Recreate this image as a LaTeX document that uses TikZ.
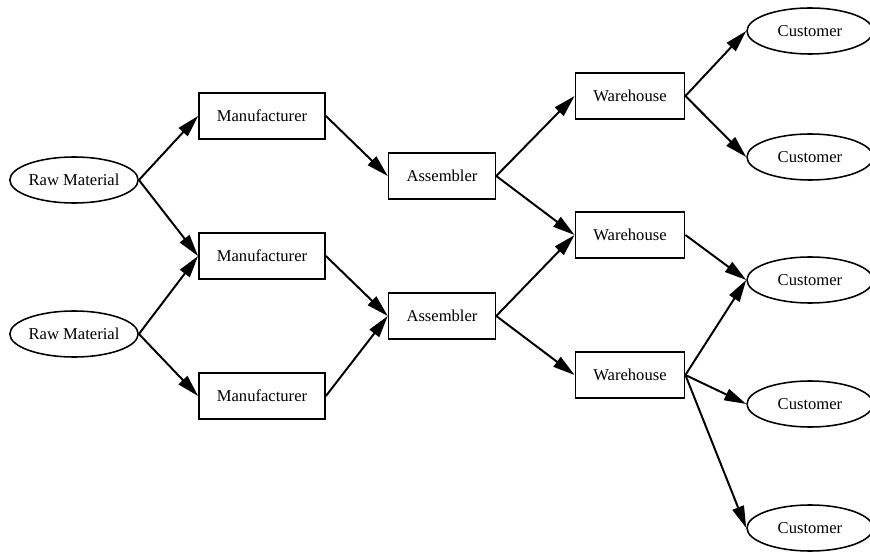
\documentclass[tikz,border=0pt]{standalone}
\usepackage{fontspec}
\setmainfont{Liberation Serif}
\usetikzlibrary{positioning,shapes.geometric,arrows.meta}

\tikzset{
  stage/.style={draw, line width=1.1pt, rectangle, inner xsep=0.45cm, minimum height=1.15cm},
  endpt/.style={draw, line width=1.1pt, ellipse, inner sep=0pt, minimum width=3.15cm, minimum height=1.15cm},
  arr/.style={line width=1.4pt, -{Triangle[length=0.55cm, width=0.3cm]}}
}
\newcommand{\flow}[2]{\foreach \dst in {#2} {\draw[arr] (#1.east) -- (\dst.west);}}

\begin{document}
\begin{tikzpicture}[on grid, font=\fontsize{11.8}{14}\selectfont]
    \useasboundingbox (0,0) rectangle (21.75,-13.8);

    \node[endpt] (rm1) at (1.85,-4.5) {Raw Material} ;
    \node[endpt, below = 3.85cm of rm1] (rm2) {Raw Material} ;

    \node[stage, above right = 1.6cm and 4.7cm of rm1] (m1) {Manufacturer} ;
    \node[stage, below = 3.5cm of m1] (m2) {Manufacturer} ;
    \node[stage, below = 3.5cm of m2] (m3) {Manufacturer} ;
    \flow {rm1} {m1,m2} ;
    \flow {rm2} {m2,m3} ;

    \node[stage, below right = 1.5cm and 4.5cm of m1] (a1) {Assembler} ;
    \node[stage, below = 3.5cm of a1] (a2) {Assembler} ;
    \flow {m1} {a1} ;
    \flow {m2} {a2} ;
    \flow {m3} {a2} ;

    \node[stage, above right = 2cm and 4.7cm of a1] (w1) {Warehouse} ;
    \node[stage, below = 3.475cm of w1] (w2) {Warehouse} ;
    \node[stage, below = 3.5cm of w2] (w3) {Warehouse} ;
    \flow {a1} {w1,w2} ;
    \flow {a2} {w2,w3} ;

    \node[endpt, above right = 1.625cm and 4.5cm of w1] (c1) {Customer} ;
    \node[endpt, below = 3.15cm of c1] (c2) {Customer} ;
    \node[endpt, below = 3.075cm of c2] (c3) {Customer} ;
    \node[endpt, below = 3.1cm of c3] (c4) {Customer} ;
    \node[endpt, below = 3.1cm of c4] (c5) {Customer} ;
    \flow {w1} {c1,c2} ;
    \flow {w2} {c3} ;
    \flow {w3} {c3,c4,c5} ;
\end{tikzpicture}
\end{document}
